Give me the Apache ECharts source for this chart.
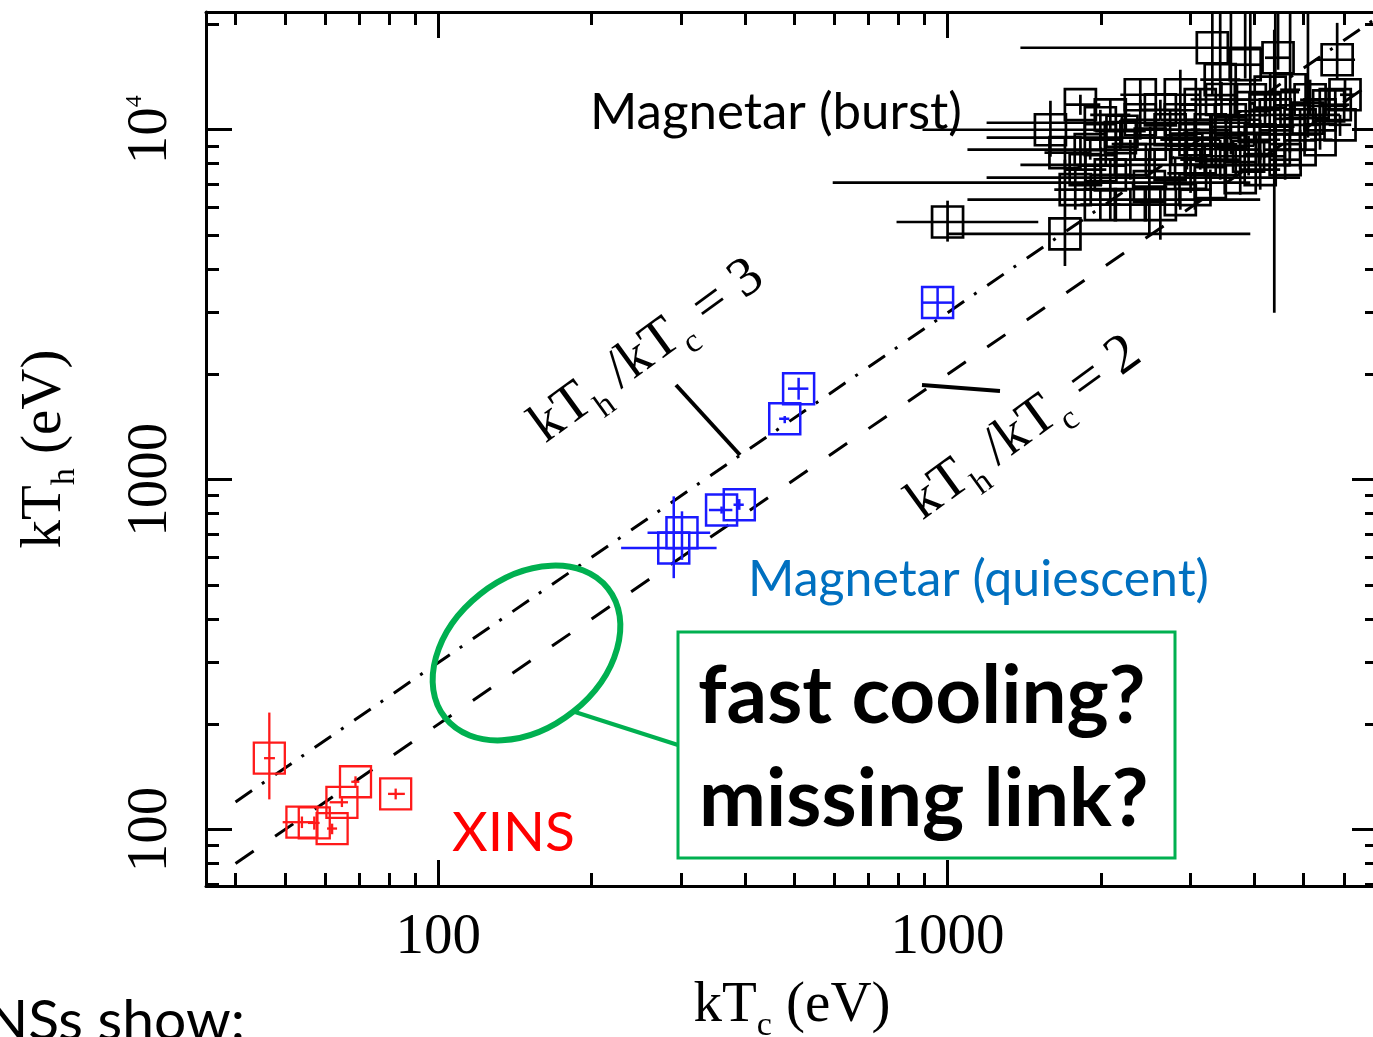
<!DOCTYPE html>
<html><head><meta charset="utf-8">
<script src="https://cdn.jsdelivr.net/npm/echarts/dist/echarts.min.js"></script>
<style>html,body{margin:0;padding:0;overflow:hidden;background:#fff}#c{width:1380px;height:1037px}</style>
</head><body><div id="c"></div>
<script>
// ---- axis ranges & ticks ----
const xRange = [35, 7000];
const yRange = [69, 21700];
const xMajorTicks = [100, 1000];
const yMajorTicks = [100, 1000, 10000];
const xMinorTicks = [40, 50, 60, 70, 80, 90, 200, 300, 400, 500, 600, 700, 800, 900, 2000, 3000, 4000, 5000, 6000];
const yMinorTicks = [70, 80, 90, 200, 300, 400, 500, 600, 700, 800, 900, 2000, 3000, 4000, 5000, 6000, 7000, 8000, 9000, 20000];

// ---- reference lines kT_h/kT_c = 2 and 3 ----
const ratio2Line = [[40, 80], [7000, 14000]];
const ratio3Line = [[40, 120], [7000, 21000]];

// ---- data: [kTc, kTh, kTc_lo, kTc_hi, kTh_lo, kTh_hi] (eV) ----
const xinsPoints = [
  [46.6, 160, 45.5, 47.8, 122, 216],
  [54.0, 105, 49.5, 57.0, 101, 109],
  [57.1, 104.5, 55.5, 58.5, 100, 109],
  [61.9, 100.7, 60.5, 63.3, 97, 104],
  [64.7, 119.7, 61.2, 66.5, 116, 123],
  [68.8, 137, 67.5, 70.0, 133, 142],
  [82.5, 126.5, 79.7, 86.0, 122, 131]
];
const quiescentPoints = [
  [956, 3206, 893, 1023, 2904, 3540],
  [510, 1820, 486, 533, 1693, 1955],
  [479, 1493, 467, 489, 1450, 1520],
  [390, 848, 380, 398, 820, 880],
  [360, 819, 340, 378, 800, 838],
  [290, 638, 228.6, 352, 523, 896],
  [301, 705, 257.6, 342, 590, 812]
];
const burstPoints = [
  [3310, 17150, 1390, 4130, 12590, 30000],
  [5820, 15850, 5270, 6310, 14050, 20200],
  [1700, 5040, 1000, 3930, 4080, 8210],
  [1000, 5450, 794, 1507, 4790, 6270],
  [4380, 8770, 4200, 4700, 3000, 19300],
  [3280, 7060, 595, 3930, 6500, 7700],
  [2490, 6880, 2300, 2700, 5040, 8770],
  [1592, 10000, 893, 2864, 8374, 12100],
  [1995, 10470, 1193, 3930, 9364, 11400],
  [2184, 9490, 1193, 3755, 8770, 10680],
  [1906, 8770, 1094, 3134, 8210, 9364],
  [2735, 7940, 1390, 4705, 7197, 8770],
  [2864, 6310, 1094, 4110, 5908, 6740],
  [3755, 7295, 1193, 4922, 6520, 7943],
  [2617, 11400, 2390, 2864, 10680, 12180],
  [2864, 12590, 2617, 3134, 11400, 14840],
  [3134, 11790, 2864, 3430, 10680, 13010],
  [3430, 13900, 3134, 3755, 12180, 30000],
  [3590, 10680, 3134, 4110, 9364, 12180],
  [3930, 12180, 3430, 4498, 10680, 30000],
  [4110, 9364, 3755, 4498, 8210, 10680],
  [4400, 11030, 4110, 4700, 10000, 30000],
  [4705, 13010, 4498, 4922, 11400, 30000],
  [4922, 10330, 4498, 5387, 9364, 11400],
  [5150, 12180, 4922, 5387, 11030, 13900],
  [5387, 11030, 4922, 5896, 10000, 12180],
  [5770, 11790, 5387, 6150, 10680, 13010],
  [6030, 12590, 5896, 6300, 11400, 14000],
  [3755, 8770, 3430, 4110, 7690, 9900],
  [3430, 8210, 3134, 3755, 7197, 9364],
  [3060, 9364, 2617, 3430, 8210, 10680],
  [2735, 10000, 2390, 3134, 9000, 11400],
  [2390, 10680, 2184, 2617, 9364, 12180],
  [2285, 8210, 2087, 2500, 7197, 9364],
  [2087, 7435, 1906, 2285, 5533, 8210],
  [1863, 7690, 1700, 2050, 6740, 8770],
  [1781, 6740, 1620, 1950, 5908, 7690],
  [1995, 6107, 1823, 2184, 5533, 6740],
  [2285, 6107, 2087, 2500, 5533, 6740],
  [2617, 6107, 2390, 2864, 4850, 6740],
  [3060, 6740, 2864, 3300, 5908, 7690],
  [4110, 7690, 3755, 4498, 6740, 8770],
  [4600, 8210, 4300, 4922, 7197, 9364],
  [4922, 8770, 4600, 5270, 7690, 10000],
  [3840, 15340, 3600, 4110, 14000, 30000],
  [4455, 16060, 4200, 4705, 14840, 30000],
  [1823, 11790, 1700, 1995, 11030, 12590],
  [2087, 11030, 1906, 2285, 10000, 12180],
  [2390, 12590, 2184, 2617, 11400, 13900],
  [5387, 9364, 5150, 5700, 8770, 10000],
  [5896, 10330, 5600, 6200, 9600, 11030],
  [2864, 10680, 2617, 3134, 10000, 11400],
  [3280, 10000, 3000, 3600, 9000, 11030],
  [4200, 11400, 3930, 4498, 10330, 12590],
  [3134, 8210, 2864, 3430, 7690, 8770],
  [1995, 9364, 1863, 2184, 8770, 10000],
  [3600, 9800, 2900, 4300, 8500, 30000],
  [3300, 9000, 2700, 4000, 7800, 11000],
  [4000, 10200, 3300, 4800, 9000, 12000],
  [4700, 9700, 4000, 5400, 8600, 11500],
  [3900, 8400, 3200, 4600, 7400, 9600],
  [2950, 8800, 2500, 3500, 7700, 10000],
  [5100, 10800, 4600, 5600, 9500, 30000],
  [2500, 9100, 2100, 2950, 8200, 10200],
  [4300, 12800, 3700, 4900, 11300, 14500],
  [3450, 12200, 3000, 3900, 10900, 13700],
  [2200, 9900, 1950, 2450, 9000, 10900],
  [1700, 8600, 1550, 1900, 7700, 9600],
  [2000, 7900, 1800, 2250, 6900, 8900],
  [5600, 11700, 5100, 6100, 10500, 13000],
  [3000, 7500, 2700, 3350, 6600, 8400]
];

const SERIF = '"Liberation Serif", "DejaVu Serif", serif';
const SANS = 'Lato, "Open Sans", sans-serif';
const FS = 57;

function baseAxis(extra) {
  return Object.assign({
    type: 'log', logBase: 10,
    axisLine: { show: false, onZero: false },
    splitLine: { show: false },
    axisTick: { show: false },
    axisLabel: { show: false }
  }, extra);
}
const frameLine = { show: true, onZero: false, lineStyle: { color: '#000', width: 3 } };
function majorTick(vals) { return { show: true, inside: true, length: 26, lineStyle: { color: '#000', width: 3 }, customValues: vals }; }
function minorTickCfg(vals) { return { show: true, inside: true, length: 13, lineStyle: { color: '#000', width: 3 }, customValues: vals }; }

const xAxes = [
  baseAxis({ position: 'bottom', min: xRange[0], max: xRange[1], axisLine: frameLine, axisTick: majorTick(xMajorTicks),
    axisLabel: { show: true, customValues: xMajorTicks, margin: 24, color: '#000', fontFamily: SERIF, fontSize: FS, formatter: v => String(Math.round(v)) },
    name: '{a|kT}{s|c}{a| (eV)}', nameLocation: 'middle', nameGap: 92,
    nameTextStyle: { color: '#000', fontFamily: SERIF, fontSize: FS, rich: {
      a: { fontFamily: SERIF, fontSize: FS, color: '#000', padding: [0, 0, 8, 0] },
      s: { fontFamily: SERIF, fontSize: 34, color: '#000', verticalAlign: 'bottom' } } } }),
  baseAxis({ position: 'bottom', min: xRange[0], max: xRange[1], axisTick: minorTickCfg(xMinorTicks) }),
  baseAxis({ position: 'top', min: xRange[0], max: xRange[1], axisLine: frameLine, axisTick: majorTick(xMajorTicks) }),
  baseAxis({ position: 'top', min: xRange[0], max: xRange[1], axisTick: minorTickCfg(xMinorTicks) })
];
const yAxes = [
  baseAxis({ position: 'left', min: yRange[0], max: yRange[1], axisLine: frameLine, axisTick: majorTick(yMajorTicks),
    axisLabel: { show: true, customValues: yMajorTicks, rotate: 90, margin: 26, color: '#000', fontFamily: SERIF, fontSize: FS,
      formatter: v => { const r = Math.round(v); return r === 10000 ? '{b|10}{p|4}' : String(r); },
      rich: { b: { fontFamily: SERIF, fontSize: FS, color: '#000' }, p: { fontFamily: SERIF, fontSize: 24, color: '#000', verticalAlign: 'top' } } },
    name: '{a|kT}{s|h}{a| (eV)}', nameLocation: 'middle', nameRotate: 90, nameGap: 124,
    nameTextStyle: { color: '#000', fontFamily: SERIF, fontSize: FS, rich: {
      a: { fontFamily: SERIF, fontSize: FS, color: '#000', padding: [0, 0, 8, 0] },
      s: { fontFamily: SERIF, fontSize: 34, color: '#000', verticalAlign: 'bottom' } } } }),
  baseAxis({ position: 'left', min: yRange[0], max: yRange[1], axisTick: minorTickCfg(yMinorTicks) }),
  baseAxis({ position: 'right', min: yRange[0], max: yRange[1], axisLine: frameLine, axisTick: majorTick(yMajorTicks) }),
  baseAxis({ position: 'right', min: yRange[0], max: yRange[1], axisTick: minorTickCfg(yMinorTicks) })
];

function pointSeries(name, data, color, lw, z) {
  return {
    type: 'custom', name, data, clip: true, silent: true, z,
    encode: { x: 0, y: 1 },
    renderItem(params, api) {
      const x = api.value(0), y = api.value(1);
      const c = api.coord([x, y]);
      const l = api.coord([api.value(2), y]);
      const r = api.coord([api.value(3), y]);
      const lo = api.coord([x, api.value(4)]);
      const hi = api.coord([x, api.value(5)]);
      const h = 15.5;
      const st = { stroke: color, lineWidth: lw, fill: null };
      return { type: 'group', children: [
        { type: 'line', shape: { x1: l[0], y1: c[1], x2: r[0], y2: c[1] }, style: st },
        { type: 'line', shape: { x1: c[0], y1: hi[1], x2: c[0], y2: lo[1] }, style: st },
        { type: 'rect', shape: { x: c[0] - h, y: c[1] - h, width: 2 * h, height: 2 * h }, style: st }
      ] };
    }
  };
}

function ratioText(x, y, num) {
  return {
    type: 'text', x, y, rotation: 36 * Math.PI / 180, z: 100,
    style: {
      text: '{a|kT}{s|h}{a| /kT}{s|c}{a| = ' + num + '}',
      align: 'center', verticalAlign: 'middle',
      rich: {
        a: { fontFamily: SERIF, fontSize: 56, fill: '#000', padding: [0, 0, 9, 0] },
        s: { fontFamily: SERIF, fontSize: 34, fill: '#000', verticalAlign: 'bottom' }
      }
    }
  };
}

const GREEN = '#00B050';
const option = {
  backgroundColor: '#fff',
  animation: false,
  grid: { left: 206, top: 12, right: 2, bottom: 151, containLabel: false, outerBoundsMode: 'none' },
  xAxis: xAxes,
  yAxis: yAxes,
  series: [
    { type: 'line', data: ratio2Line, showSymbol: false, silent: true, z: 2,
      lineStyle: { color: '#000', width: 3, type: [22, 26] } },
    { type: 'line', data: ratio3Line, showSymbol: false, silent: true, z: 2,
      lineStyle: { color: '#000', width: 3, type: [20, 12, 3, 13] } },
    pointSeries('XINS', xinsPoints, '#ff1a1a', 2.3, 5),
    pointSeries('Magnetar (quiescent)', quiescentPoints, '#1a1aff', 2.5, 5),
    pointSeries('Magnetar (burst)', burstPoints, '#000', 2.7, 4)
  ],
  graphic: [
    { type: 'text', x: 590, y: 113, z: 100, style: { text: 'Magnetar (burst)', fontFamily: SANS, fontSize: 51, fill: '#000', align: 'left', verticalAlign: 'middle' } },
    ratioText(650, 355, 3),
    ratioText(1027, 432, 2),
    { type: 'line', z: 100, shape: { x1: 676, y1: 385, x2: 740, y2: 455 }, style: { stroke: '#000', lineWidth: 4 } },
    { type: 'line', z: 100, shape: { x1: 922, y1: 385, x2: 1000, y2: 391 }, style: { stroke: '#000', lineWidth: 4 } },
    { type: 'text', x: 748, y: 580, z: 100, style: { text: 'Magnetar (quiescent)', fontFamily: SANS, fontSize: 50, fill: '#0070C0', align: 'left', verticalAlign: 'middle' } },
    { type: 'text', x: 452, y: 833, z: 100, style: { text: 'XINS', fontFamily: SANS, fontSize: 55, fill: '#ff0000', align: 'left', verticalAlign: 'middle' } },
    { type: 'ellipse', x: 526.5, y: 653, rotation: 38.5 * Math.PI / 180, z: 100, shape: { cx: 0, cy: 0, rx: 104, ry: 75 }, style: { fill: null, stroke: GREEN, lineWidth: 6 } },
    { type: 'line', z: 100, shape: { x1: 575, y1: 712, x2: 678, y2: 745 }, style: { stroke: GREEN, lineWidth: 4 } },
    { type: 'rect', z: 100, shape: { x: 678, y: 632, width: 497, height: 226 }, style: { fill: '#fff', stroke: GREEN, lineWidth: 3 } },
    { type: 'text', x: 698, y: 697, z: 101, style: { text: 'fast cooling?', fontFamily: SANS, fontWeight: 'bold', fontSize: 80, fill: '#000', align: 'left', verticalAlign: 'middle' } },
    { type: 'text', x: 699, y: 800, z: 101, style: { text: 'missing link?', fontFamily: SANS, fontWeight: 'bold', fontSize: 80, fill: '#000', align: 'left', verticalAlign: 'middle' } },
    { type: 'text', x: 245, y: 1022, z: 100, style: { text: 'NSs show:', fontFamily: SANS, fontSize: 57, fill: '#000', align: 'right', verticalAlign: 'middle' } }
  ]
};
const chart = echarts.init(document.getElementById('c'), null, { renderer: 'canvas' });
chart.setOption(option);
</script>
</body></html>
